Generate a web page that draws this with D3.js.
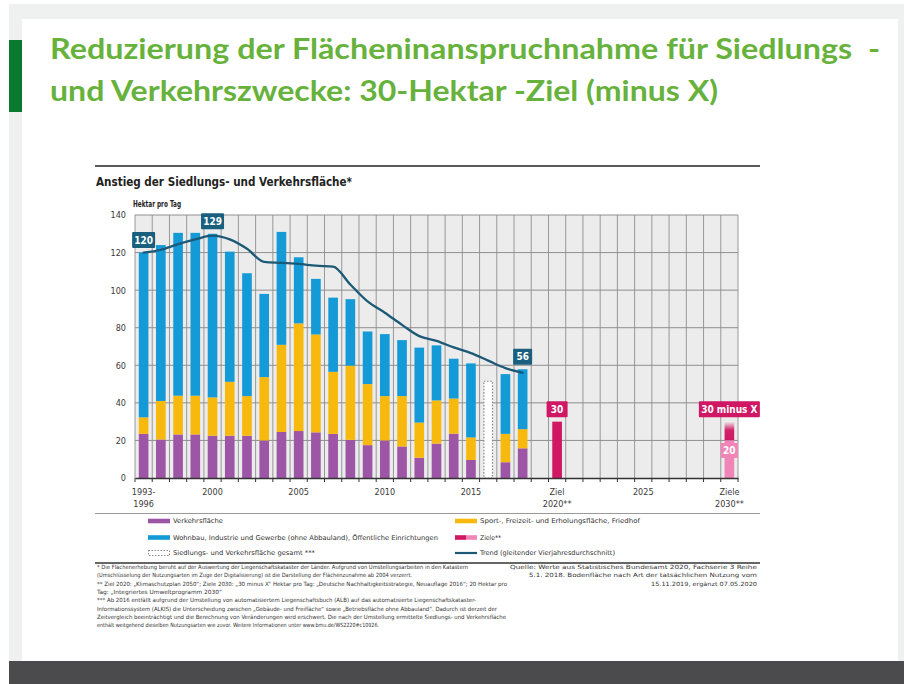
<!DOCTYPE html>
<html><head><meta charset="utf-8">
<script src="https://cdn.jsdelivr.net/npm/d3@7"></script>
<style>body{margin:0;background:#fff}svg{display:block}</style>
</head><body><svg id="c" width="904" height="684"></svg>
<script>
// ---------- DATA ----------
const categories = ["1993-1996","1997","1998","1999","2000","2001","2002","2003","2004","2005","2006","2007","2008","2009","2010","2011","2012","2013","2014","2015","2016","2017","2018","2019","2020","2021","2022","2023","2024","2025","2026","2027","2028","2029","2030"];
const barCats = ["1993-1996","1997","1998","1999","2000","2001","2002","2003","2004","2005","2006","2007","2008","2009","2010","2011","2012","2013","2014","2015","2016","2017","2018"];
const verkehr = [23.5,20.5,23.2,23.2,22.5,22.5,22.5,20.0,24.5,25.0,24.3,23.5,20.3,17.5,20.0,16.8,10.8,18.3,23.6,9.6,null,8.4,15.8];
const sport   = [8.8,20.5,20.6,20.6,20.4,28.7,21.1,33.7,46.4,57.3,52.1,33.0,39.5,32.5,23.6,26.8,18.7,23.0,18.7,12.0,null,15.1,10.2];
const wohnbau = [87.7,83.0,86.7,86.7,87.1,69.3,65.4,44.3,60.1,35.2,29.6,39.5,35.4,28.0,33.0,29.8,39.9,29.3,21.2,39.4,null,31.8,31.9];
const gesamtCats = ["2016"];
const gesamtValues = [51.5];
const trend = [120,121.5,124.5,127,129,127,122,115,114.5,114,113,112.5,103,94,88,81.5,75.5,73,69.5,66.5,62.5,58.5,56];
const trendLabelCats = ["1993-1996","2000","2018"];
const trendLabelValues = [120,129,56];
const zielCats = ["2020","2030"];
const zielValues = [30,30];
const zielLabels = ["30","30 minus X"];
const ziel20Cats = ["2030"];
const ziel20Values = [20];
const yTicks = [0,20,40,60,80,100,120,140];
const xTickCats = ["1993-1996","2000","2005","2010","2015","2020","2025","2030"];
const xTickLabels = [["1993-","1996"],["2000"],["2005"],["2010"],["2015"],["Ziel","2020**"],["2025"],["Ziele","2030**"]];
const titleLines = ["Reduzierung der Flächeninanspruchnahme für Siedlungs  -","und Verkehrszwecke: 30-Hektar -Ziel (minus X)"];
const chartTitle = "Anstieg der Siedlungs- und Verkehrsfläche*";
const yUnit = "Hektar pro Tag";
const legendLabels = ["Verkehrsfläche","Sport-, Freizeit- und Erholungsfläche, Friedhof","Wohnbau, Industrie und Gewerbe (ohne Abbauland), Öffentliche Einrichtungen","Ziele**","Siedlungs- und Verkehrsfläche gesamt ***","Trend (gleitender Vierjahresdurchschnitt)"];
const footLeft = [
 "* Die Flächenerhebung beruht auf der Auswertung der Liegenschaftskataster der Länder. Aufgrund von Umstellungsarbeiten in den Katastern",
 "(Umschlüsselung der Nutzungsarten im Zuge der Digitalisierung) ist die Darstellung der Flächenzunahme ab 2004 verzerrt.",
 "** Ziel 2020: \u201EKlimaschutzplan 2050\u201C; Ziele 2030: \u201E30 minus X\u201C Hektar pro Tag: \u201EDeutsche Nachhaltigkeitsstrategie, Neuauflage 2016\u201C; 20 Hektar pro",
 "Tag: \u201EIntegriertes Umweltprogramm 2030\u201C",
 "*** Ab 2016 entfällt aufgrund der Umstellung von automatisiertem Liegenschaftsbuch (ALB) auf das automatisierte Liegenschaftskataster-",
 "Informationssystem (ALKIS) die Unterscheidung zwischen \u201EGebäude- und Freifläche\u201C sowie \u201EBetriebsfläche ohne Abbauland\u201C. Dadurch ist derzeit der",
 "Zeitvergleich beeinträchtigt und die Berechnung von Veränderungen wird erschwert. Die nach der Umstellung ermittelte Siedlungs- und Verkehrsfläche",
 "enthält weitgehend dieselben Nutzungsarten wie zuvor. Weitere Informationen unter www.bmu.de/WS2220#c10926."
];
const footRight = [
 "Quelle: Werte aus Statistisches Bundesamt 2020, Fachserie 3 Reihe",
 "5.1. 2018. Bodenfläche nach Art der tatsächlichen Nutzung vom",
 "15.11.2019, ergänzt 07.05.2020"
];

// ---------- STYLE / LAYOUT ----------
const C = {purple:"#9d56a6", yellow:"#f7b90d", blue:"#149bd7", trend:"#1b5977", box:"#1a5f7e",
           pink:"#cf1763", lpink:"#f285b8", grid:"#8f8f8f", plotBg:"#ececec", text:"#3a3a3a"};
const F = "'Liberation Sans Narrow','DejaVu Sans Condensed','Roboto',sans-serif";
const svg = d3.select("#c");

// page background
svg.append("rect").attr("x",9).attr("y",4).attr("width",895).attr("height",657).attr("fill","#eff1f0");
svg.append("rect").attr("x",22).attr("y",19).attr("width",876).attr("height",642).attr("fill","#fff");
svg.append("rect").attr("x",9).attr("y",661).attr("width",895).attr("height",23).attr("fill","#4b4b4d");
svg.append("rect").attr("x",9).attr("y",40).attr("width",13).attr("height",72).attr("fill","#0b7a30");

// page title
const tW = [830, 668], tY = [59, 101];
titleLines.forEach((t,i)=>{
  svg.append("text").attr("x",50).attr("y",tY[i]).text(t)
    .attr("font-family","Lato,'Open Sans',sans-serif").attr("font-weight",700).attr("font-size",28)
    .attr("fill","#67b23c").attr("textLength",tW[i]).attr("lengthAdjust","spacingAndGlyphs")
    .style("white-space","pre");
});

// chart frame
svg.append("line").attr("x1",95).attr("x2",760).attr("y1",166).attr("y2",166).attr("stroke","#5a5a5a").attr("stroke-width",2);
svg.append("text").attr("x",96).attr("y",186).text(chartTitle).attr("font-family",F).attr("font-weight",700)
  .attr("font-size",12).attr("fill","#222").attr("textLength",256).attr("lengthAdjust","spacingAndGlyphs");
svg.append("text").attr("x",133).attr("y",207).text(yUnit).attr("font-family",F).attr("font-weight",700)
  .attr("font-size",8).attr("fill","#222").attr("textLength",48).attr("lengthAdjust","spacingAndGlyphs");

const x = d3.scaleBand().domain(categories).range([135,738]).padding(0);
const y = d3.scaleLinear().domain([0,140]).range([478,215]);
const bw = x.bandwidth()*0.56;
const bx = c => x(c) + (x.bandwidth()-bw)/2;

// plot bg & grid
svg.append("rect").attr("x",135).attr("y",y(140)).attr("width",603).attr("height",y(0)-y(140)).attr("fill",C.plotBg);
const g = svg.append("g");
g.selectAll(".vg").data(categories.concat(["end"])).enter().append("line")
  .attr("x1",(d,i)=> i<categories.length ? x(d) : 738).attr("x2",(d,i)=> i<categories.length ? x(d) : 738)
  .attr("y1",y(140)).attr("y2",y(0)).attr("stroke",C.grid).attr("stroke-width",0.9);
g.selectAll(".hg").data(yTicks.filter(v=>v>0)).enter().append("line")
  .attr("x1",135).attr("x2",738).attr("y1",d=>y(d)).attr("y2",d=>y(d)).attr("stroke",C.grid).attr("stroke-width",1);

// y axis labels
const yAxis = d3.axisLeft(y).tickValues(yTicks).tickSize(0).tickPadding(0);
const ya = svg.append("g").attr("transform","translate(126,0)").call(yAxis);
ya.select(".domain").remove();
ya.selectAll("text").attr("font-family",F).attr("font-size",9).attr("fill",C.text);

// stacked bars
const table = barCats.map((c,i)=>({cat:c, verkehr:verkehr[i], sport:sport[i], wohnbau:wohnbau[i]})).filter(d=>d.verkehr!=null);
const stack = d3.stack().keys(["verkehr","sport","wohnbau"])(table);
const colors = {verkehr:C.purple, sport:C.yellow, wohnbau:C.blue};
stack.forEach(layer=>{
  svg.append("g").selectAll("rect").data(layer).enter().append("rect")
    .attr("x",d=>bx(d.data.cat)).attr("width",bw)
    .attr("y",d=>y(d[1])).attr("height",d=>y(d[0])-y(d[1])).attr("fill",colors[layer.key]);
});

// dotted total 2016
svg.append("g").selectAll("rect").data(gesamtCats).enter().append("rect")
  .attr("x",d=>bx(d)+0.5).attr("width",bw-1).attr("y",(d,i)=>y(gesamtValues[i])).attr("height",(d,i)=>y(0)-y(gesamtValues[i]))
  .attr("fill","#fff").attr("stroke","#8a8a8a").attr("stroke-width",1.2).attr("stroke-dasharray","1.6,1.6");

// targets
const defs = svg.append("defs");
const grad = defs.append("linearGradient").attr("id","pg").attr("x1",0).attr("x2",0).attr("y1",1).attr("y2",0);
grad.append("stop").attr("offset","0%").attr("stop-color",C.pink).attr("stop-opacity",1);
grad.append("stop").attr("offset","55%").attr("stop-color",C.pink).attr("stop-opacity",0.95);
grad.append("stop").attr("offset","100%").attr("stop-color",C.pink).attr("stop-opacity",0);
zielCats.forEach((c,i)=>{
  const has20 = ziel20Cats.indexOf(c);
  if (has20<0) {
    svg.append("rect").attr("x",bx(c)).attr("width",bw).attr("y",y(zielValues[i])).attr("height",y(0)-y(zielValues[i])).attr("fill",C.pink);
  } else {
    const v20 = ziel20Values[has20];
    svg.append("rect").attr("x",bx(c)).attr("width",bw).attr("y",y(zielValues[i])).attr("height",y(v20)-y(zielValues[i])).attr("fill","url(#pg)");
    svg.append("rect").attr("x",bx(c)).attr("width",bw).attr("y",y(v20)).attr("height",y(0)-y(v20)).attr("fill",C.lpink);
    // 20 label
    const cy = y(v20)+10.5;
    svg.append("rect").attr("x",x(c)+x.bandwidth()/2-8.5).attr("y",cy-8).attr("width",17).attr("height",15).attr("fill",C.lpink);
    svg.append("text").attr("x",x(c)+x.bandwidth()/2).attr("y",cy+3.5).attr("text-anchor","middle").text(String(v20))
      .attr("font-family",F).attr("font-weight",700).attr("font-size",10).attr("fill","#fff");
  }
  const lab = zielLabels[i];
  const w = lab.length>3 ? 61 : 21;
  const cx = x(c)+x.bandwidth()/2;
  const bot = y(zielValues[i]) - 4.5;
  svg.append("rect").attr("x",cx-w/2).attr("y",bot-16).attr("width",w).attr("height",16).attr("fill",C.pink).attr("rx",1);
  svg.append("text").attr("x",cx).attr("y",bot-4.5).attr("text-anchor","middle").text(lab)
    .attr("font-family",F).attr("font-weight",700).attr("font-size",10).attr("fill","#fff");
});

// trend line
const line = d3.line().x((d,i)=>x(barCats[i])+x.bandwidth()/2).y(d=>y(d)).curve(d3.curveMonotoneX);
svg.append("path").attr("d",line(trend)).attr("fill","none").attr("stroke",C.trend).attr("stroke-width",2.3).attr("stroke-linecap","round");

// trend labels
trendLabelCats.forEach((c,i)=>{
  const idx = barCats.indexOf(c);
  const top = Math.max(trend[idx], verkehr[idx]+sport[idx]+wohnbau[idx]);
  const lab = String(trendLabelValues[i]);
  const w = lab.length>2 ? 23 : 19;
  const cx = x(c)+x.bandwidth()/2;
  const bot = y(top) - 4.5;
  svg.append("rect").attr("x",cx-w/2).attr("y",bot-16).attr("width",w).attr("height",16).attr("fill",C.box).attr("rx",1);
  svg.append("text").attr("x",cx).attr("y",bot-4.5).attr("text-anchor","middle").text(lab)
    .attr("font-family",F).attr("font-weight",700).attr("font-size",10).attr("fill","#fff");
});

// x axis
const xa = d3.axisBottom(x).tickValues([]).tickSize(0);
svg.append("g").attr("transform","translate(0,478)").call(xa).select(".domain").attr("stroke","#333").attr("stroke-width",1.3);
svg.append("g").selectAll("line").data(categories.concat(["end"])).enter().append("line")
  .attr("x1",(d,i)=> i<categories.length ? x(d) : 738).attr("x2",(d,i)=> i<categories.length ? x(d) : 738)
  .attr("y1",478).attr("y2",482).attr("stroke","#333").attr("stroke-width",1);
xTickCats.forEach((c,i)=>{
  const t = svg.append("text").attr("x",x(c)+x.bandwidth()/2).attr("y",495).attr("text-anchor","middle")
    .attr("font-family",F).attr("font-size",9).attr("fill",C.text);
  xTickLabels[i].forEach((s,j)=> t.append("tspan").attr("x",x(c)+x.bandwidth()/2).attr("dy", j===0?0:12).text(s));
});

// rules
svg.append("line").attr("x1",95).attr("x2",760).attr("y1",513.5).attr("y2",513.5).attr("stroke","#9a9a9a").attr("stroke-width",1);
svg.append("line").attr("x1",95).attr("x2",760).attr("y1",563).attr("y2",563).attr("stroke","#666").attr("stroke-width",2);

// legend
const LF = 6.6;
const legPos = [[148,521,50],[455,521,160],[148,537.5,265],[455,537.5,21],[148,553,142],[455,553,135]];
function legText(i){
  const [lx,ly,w] = legPos[i];
  svg.append("text").attr("x",lx+25).attr("y",ly+2.3).text(legendLabels[i]).attr("font-family",F).attr("font-size",LF)
    .attr("fill","#333").attr("textLength",w).attr("lengthAdjust","spacingAndGlyphs");
}
[[0,C.purple],[1,C.yellow],[2,C.blue]].forEach(([i,col])=>{
  svg.append("rect").attr("x",legPos[i][0]).attr("y",legPos[i][1]-2.3).attr("width",22).attr("height",4.6).attr("fill",col);
  legText(i);
});
svg.append("rect").attr("x",legPos[3][0]).attr("y",legPos[3][1]-2.3).attr("width",11).attr("height",4.6).attr("fill",C.pink);
svg.append("rect").attr("x",legPos[3][0]+11).attr("y",legPos[3][1]-2.3).attr("width",11).attr("height",4.6).attr("fill",C.lpink);
legText(3);
svg.append("rect").attr("x",legPos[4][0]+0.5).attr("y",legPos[4][1]-2.5).attr("width",21).attr("height",5).attr("fill","#fff")
  .attr("stroke","#888").attr("stroke-width",1).attr("stroke-dasharray","1.5,1.5");
legText(4);
svg.append("line").attr("x1",legPos[5][0]).attr("x2",legPos[5][0]+22).attr("y1",legPos[5][1]).attr("y2",legPos[5][1]).attr("stroke",C.trend).attr("stroke-width",2.2);
legText(5);

// footnotes
const FF = 5.7;
const flW = [371,315,410,125,379,400,409,282];
const fY = [569,577.3,585.6,593.9,602.2,610.5,618.8,627.1];
footLeft.forEach((t,i)=>{
  svg.append("text").attr("x",97).attr("y",fY[i]).text(t).attr("font-family",F).attr("font-size",FF).attr("fill","#333")
    .attr("textLength",flW[i]).attr("lengthAdjust","spacingAndGlyphs");
});
const frW = [247,228,106];
footRight.forEach((t,i)=>{
  svg.append("text").attr("x",757-frW[i]).attr("y",fY[i]).text(t).attr("font-family",F).attr("font-size",FF).attr("fill","#333")
    .attr("textLength",frW[i]).attr("lengthAdjust","spacingAndGlyphs");
});
</script></body></html>
